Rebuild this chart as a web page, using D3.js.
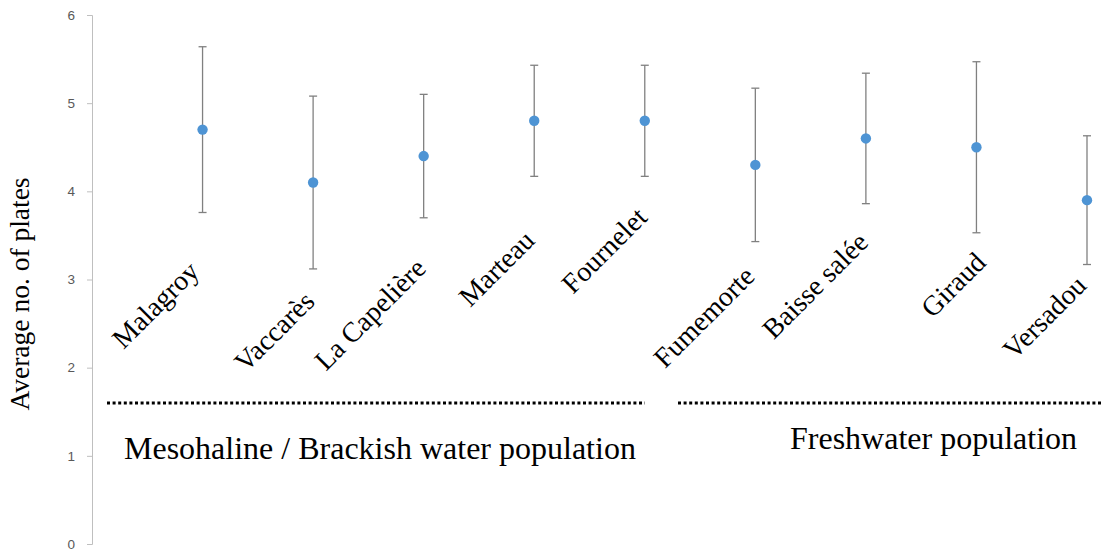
<!DOCTYPE html>
<html><head><meta charset="utf-8">
<script src="https://cdn.jsdelivr.net/npm/d3@7"></script>
<style>
html,body{margin:0;padding:0;background:#fff;}
svg{display:block;}
</style></head>
<body>
<svg id="chart" width="1102" height="552"></svg>
<script>
// ---- data ----
const sites = ["Malagroy","Vaccarès","La Capelière","Marteau","Fournelet","Fumemorte","Baisse salée","Giraud","Versadou"];
const means = [4.7, 4.1, 4.4, 4.8, 4.8, 4.3, 4.6, 4.5, 3.9];
const errors = [0.94, 0.98, 0.70, 0.63, 0.63, 0.87, 0.74, 0.97, 0.73];
const yTicks = [0, 1, 2, 3, 4, 5, 6];
const yTitle = "Average no. of plates";
const groupNames = ["Mesohaline / Brackish water population", "Freshwater population"];

// ---- layout (pixels, not data) ----
const labelNudge = [[-2,273],[3,303],[4,270],[2,242],[4,219],[1,278],[4,244],[11,264],[1,287]];

const svg = d3.select("#chart");
const x = d3.scaleLinear().domain([-1, 8]).range([92, 1087]);
const y = d3.scaleLinear().domain([0, 6]).range([544, 15]);

// y axis
const yAxis = svg.append("g").attr("transform","translate(92,0)")
  .call(d3.axisLeft(y).tickValues(yTicks).tickFormat(d3.format("d")).tickSize(5).tickPadding(12));
yAxis.select(".domain").attr("stroke","#bfbfbf");
yAxis.selectAll(".tick line").attr("stroke","#bfbfbf");
yAxis.selectAll(".tick text").attr("fill","#595959").style("font-family","'Liberation Sans',Arial,sans-serif").style("font-size","13.5px");

// y title
svg.append("text")
  .attr("transform","translate(29,294) rotate(-90)")
  .attr("text-anchor","middle")
  .style("font-family","'Liberation Serif','Times New Roman',serif")
  .style("font-size","27.5px").attr("fill","#000")
  .text(yTitle);

// error bars
const g = svg.append("g");
const eb = g.selectAll("g.eb").data(sites).enter().append("g").attr("class","eb");
eb.append("line")
  .attr("x1",(d,i)=>x(i)).attr("x2",(d,i)=>x(i))
  .attr("y1",(d,i)=>y(means[i]+errors[i])).attr("y2",(d,i)=>y(means[i]-errors[i]))
  .attr("stroke","#808080").attr("stroke-width",1.3);
eb.append("line")
  .attr("x1",(d,i)=>x(i)-4).attr("x2",(d,i)=>x(i)+4)
  .attr("y1",(d,i)=>y(means[i]+errors[i])).attr("y2",(d,i)=>y(means[i]+errors[i]))
  .attr("stroke","#808080").attr("stroke-width",1.3);
eb.append("line")
  .attr("x1",(d,i)=>x(i)-4).attr("x2",(d,i)=>x(i)+4)
  .attr("y1",(d,i)=>y(means[i]-errors[i])).attr("y2",(d,i)=>y(means[i]-errors[i]))
  .attr("stroke","#808080").attr("stroke-width",1.3);

// points
g.selectAll("circle").data(means).enter().append("circle")
  .attr("cx",(d,i)=>x(i)).attr("cy",d=>y(d)).attr("r",5.2)
  .attr("fill","#4e94d4");

// category labels
svg.selectAll("text.cat").data(sites).enter().append("text")
  .attr("class","cat")
  .attr("transform",(d,i)=>`translate(${x(i)+labelNudge[i][0]},${labelNudge[i][1]}) rotate(-45)`)
  .attr("text-anchor","end")
  .style("font-family","'Liberation Serif','Times New Roman',serif")
  .style("font-size","28px").attr("fill","#000")
  .text(d=>d);

// group separators
const dots = [[107,645],[678,1102]];
svg.selectAll("line.sep").data(dots).enter().append("line")
  .attr("class","sep")
  .attr("x1",d=>d[0]).attr("x2",d=>d[1]).attr("y1",403).attr("y2",403)
  .attr("stroke","#000").attr("stroke-width",3).attr("stroke-dasharray","3 2.6");

svg.append("text").attr("x",124).attr("y",459)
  .style("font-family","'Liberation Serif','Times New Roman',serif")
  .style("font-size","32px").attr("fill","#000").text(groupNames[0]);
svg.append("text").attr("x",790).attr("y",449)
  .style("font-family","'Liberation Serif','Times New Roman',serif")
  .style("font-size","32px").attr("fill","#000").text(groupNames[1]);
</script>
</body></html>
